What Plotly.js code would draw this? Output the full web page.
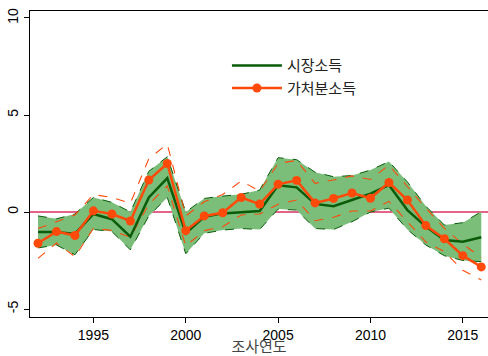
<!DOCTYPE html>
<html>
<head>
<meta charset="utf-8">
<script src="https://cdn.plot.ly/plotly-3.0.1.min.js"></script>
<style>
  html, body { margin: 0; padding: 0; background: #fff; }
  #chart { width: 488px; height: 356px; }
</style>
</head>
<body>
<div id="chart"></div>
<script>
// Survey years
const years = [1992, 1993, 1994, 1995, 1996, 1997, 1998, 1999, 2000, 2001, 2002, 2003, 2004,
               2005, 2006, 2007, 2008, 2009, 2010, 2011, 2012, 2013, 2014, 2015, 2016];

// 시장소득 (market income) estimate and its confidence band
const marketIncome = [-1.03, -1.03, -1.13, -0.1, -0.37, -1.27, 0.75, 1.75, -1.1, -0.25, -0.07, -0.02, 0.05,
                      1.38, 1.27, 0.42, 0.3, 0.62, 0.95, 1.39, 0.1, -0.75, -1.44, -1.53, -1.3];
const marketUpper = [-0.2, -0.35, -0.1, 0.75, 0.5, 0.0, 2.1, 2.85, 0.0, 0.7, 0.82, 0.91, 1.13,
                     2.8, 2.7, 2.05, 1.82, 1.88, 2.16, 2.6, 1.55, 0.3, -0.67, -0.55, 0.02];
const marketLower = [-1.85, -1.7, -2.2, -0.9, -1.0, -1.95, -0.2, 0.75, -2.15, -1.1, -0.93, -0.85, -0.9,
                     0.15, 0.1, -0.85, -0.9, -0.5, 0.0, 0.2, -0.9, -1.7, -2.25, -2.5, -2.56];

// 가처분소득 (disposable income) estimate and its confidence bounds
const dispIncome = [-1.61, -1.01, -1.21, 0.06, -0.1, -0.46, 1.65, 2.5, -0.96, -0.2, -0.04, 0.75, 0.41,
                    1.43, 1.63, 0.47, 0.7, 0.98, 0.71, 1.52, 0.62, -0.7, -1.38, -2.25, -2.83];
const dispUpper = [-0.85, -0.5, -0.15, 0.9, 0.75, 0.45, 2.75, 3.5, -0.2, 0.53, 0.9, 1.6, 1.08,
                   2.5, 2.66, 1.48, 1.65, 1.86, 1.68, 2.42, 1.3, 0.2, -0.84, -1.65, -2.35];
const dispLower = [-2.39, -1.6, -2.3, -0.84, -0.95, -1.3, 0.4, 1.35, -1.75, -0.96, -0.76, -0.15, -0.1,
                   0.4, 0.62, -0.45, -0.27, 0.05, 0.05, 0.55, -0.5, -1.55, -2.04, -3.0, -3.5];

const xTicks = [1995, 2000, 2005, 2010, 2015];
const yTicks = [-5, 0, 5, 10];

const darkGreen = '#0a5c0a';
const orange = '#ff4a0a';
const bandFill = 'rgba(122,190,122,1)';

const traces = [
  { x: years, y: marketUpper, mode: 'lines', showlegend: false, hoverinfo: 'skip',
    line: { color: darkGreen, width: 1, dash: 'dash' } },
  { x: years, y: marketLower, mode: 'lines', showlegend: false, hoverinfo: 'skip',
    fill: 'tonexty', fillcolor: bandFill,
    line: { color: darkGreen, width: 1, dash: 'dash' } },
  { x: years, y: dispUpper, mode: 'lines', showlegend: false, hoverinfo: 'skip',
    line: { color: orange, width: 1.1, dash: 'dash' } },
  { x: years, y: dispLower, mode: 'lines', showlegend: false, hoverinfo: 'skip',
    line: { color: orange, width: 1.1, dash: 'dash' } },
  { x: years, y: marketIncome, mode: 'lines', name: '시장소득',
    line: { color: darkGreen, width: 2.5 } },
  { x: years, y: dispIncome, mode: 'lines+markers', name: '가처분소득',
    line: { color: orange, width: 2.5 },
    marker: { color: orange, size: 9 } }
];

const layout = {
  width: 488,
  height: 356,
  margin: { l: 30, r: 0, t: 11, b: 39 },
  paper_bgcolor: '#fff',
  plot_bgcolor: '#fff',
  font: { family: 'Liberation Sans, Arial, sans-serif', size: 14, color: '#000' },
  xaxis: {
    range: [1991.567, 2016.364],
    tickvals: xTicks,
    ticktext: xTicks.map(String),
    ticks: 'outside', ticklen: 5, tickcolor: '#000', tickwidth: 1,
    showline: true, linecolor: '#000', linewidth: 1.3, mirror: true,
    showgrid: false, zeroline: false,
    tickfont: { size: 14 },
    title: { text: '조사연도', standoff: 0,
             font: { family: 'Noto Sans CJK KR, sans-serif', size: 15, color: '#444' } }
  },
  yaxis: {
    range: [-5.41, 10.36],
    tickvals: yTicks,
    ticktext: yTicks.map(String),
    tickangle: -90,
    ticks: 'outside', ticklen: 5, tickcolor: '#000', tickwidth: 1,
    showline: true, linecolor: '#000', linewidth: 1.3,
    showgrid: false, zeroline: false,
    tickfont: { size: 14 }
  },
  shapes: [
    { type: 'line', xref: 'paper', x0: 0, x1: 1, yref: 'y', y0: 0, y1: 0,
      layer: 'below', line: { color: '#d8325f', width: 1.3 } }
  ],
  legend: {
    x: 0.43, y: 0.875, xanchor: 'left', yanchor: 'top',
    traceorder: 'normal',
    bgcolor: 'rgba(0,0,0,0)',
    font: { family: 'Noto Sans CJK KR, sans-serif', size: 15, color: '#222' },
    itemwidth: 50,
    tracegroupgap: 0
  },
  showlegend: true
};

Plotly.newPlot('chart', traces, layout, { displayModeBar: false, staticPlot: true });
</script>
</body>
</html>
